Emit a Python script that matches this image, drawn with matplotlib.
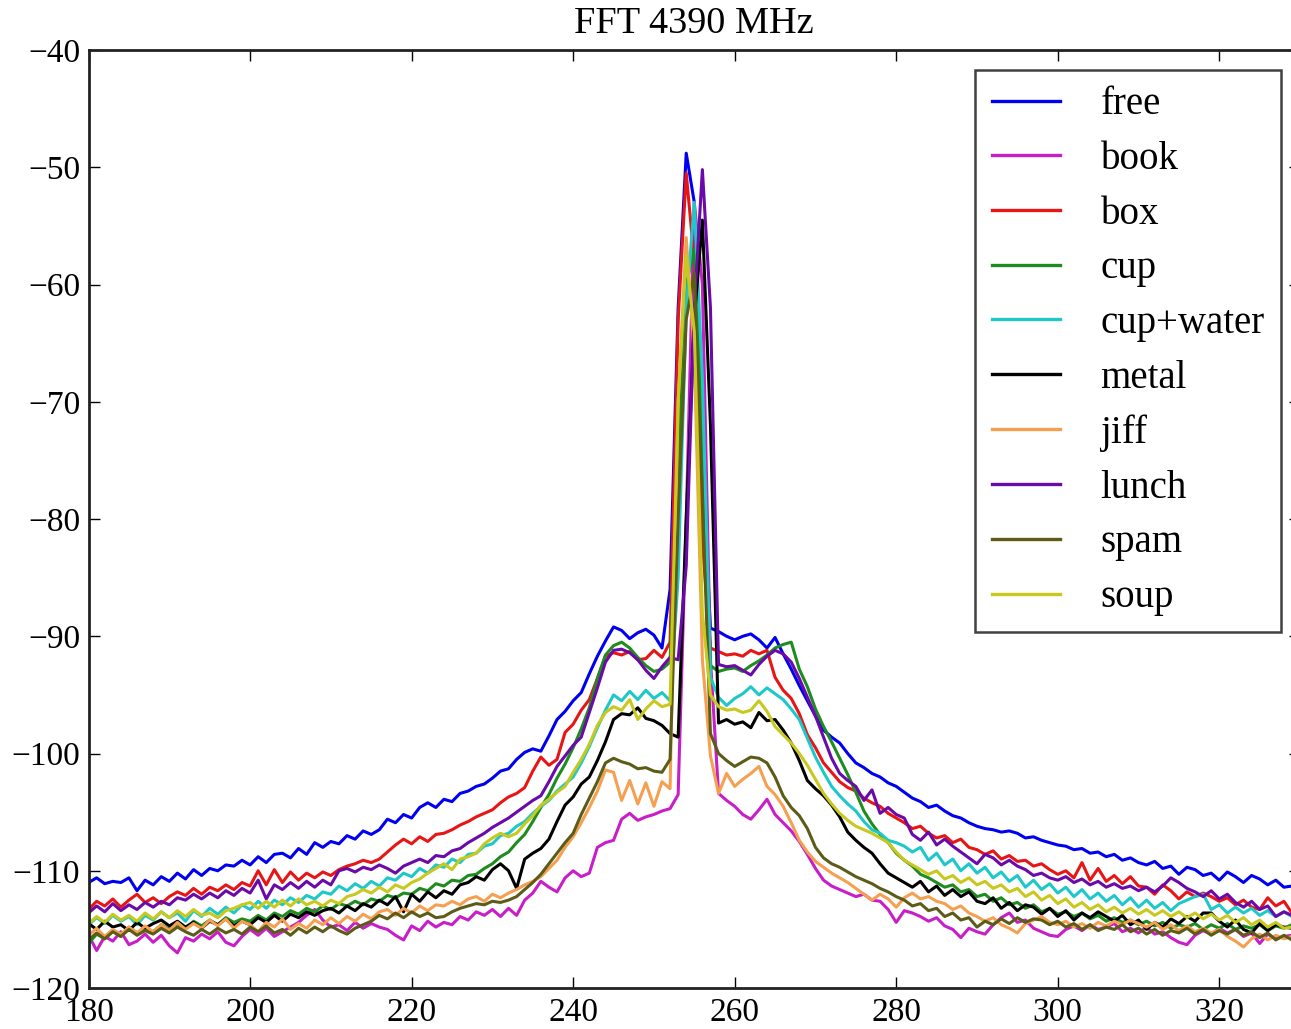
import matplotlib
matplotlib.use("Agg")
import matplotlib.pyplot as plt
import numpy as np

plt.rcParams['font.family'] = ['Liberation Serif', 'DejaVu Serif']
plt.rcParams['axes.unicode_minus'] = True

x_start, x_stop = 180, 330   # FFT bins 180..329

free = [
 -111.0, -110.6, -111.1, -110.9, -111.0, -110.6, -111.7, -110.8, -111.2, -110.5,
 -110.9, -110.2, -110.7, -109.9, -110.4, -109.8, -110.0, -109.5, -109.6, -109.1,
 -109.5, -108.8, -109.3, -108.6, -108.5, -108.9, -108.1, -108.6, -107.6, -108.0,
 -107.5, -107.7, -107.0, -107.3, -106.6, -106.9, -106.5, -105.6, -105.9, -105.2,
 -105.5, -104.6, -104.2, -104.6, -103.9, -104.1, -103.4, -103.2, -102.8, -102.6,
 -102.1, -101.5, -101.3, -100.5, -99.9, -99.6, -99.8, -98.5, -97.1, -96.4,
 -95.5, -94.8, -93.2, -91.7, -90.4, -89.2, -89.5, -90.2, -89.7, -89.4,
 -89.9, -91.0, -86.0, -62.0, -48.8, -53.0, -75.0, -89.3, -89.6, -90.0,
 -90.3, -90.0, -89.8, -90.3, -91.0, -90.1, -91.5, -92.8, -94.2, -95.5,
 -96.8, -98.0, -98.6, -99.1, -100.0, -100.8, -101.2, -101.7, -102.0, -102.5,
 -102.8, -103.3, -103.8, -104.1, -104.6, -104.4, -104.9, -105.3, -105.5, -105.9,
 -106.2, -106.4, -106.5, -106.7, -106.6, -106.8, -107.2, -107.1, -107.4, -107.6,
 -107.8, -107.9, -108.2, -108.1, -108.5, -108.4, -108.8, -108.6, -109.1, -108.9,
 -109.3, -109.5, -109.2, -109.8, -109.6, -110.3, -109.7, -109.9, -110.4, -110.2,
 -110.8, -110.1, -110.5, -111.0, -110.4, -110.7, -111.2, -110.8, -111.4, -111.3]

book = [
 -115.5, -116.8, -115.6, -116.0, -115.2, -116.3, -116.0, -115.4, -116.1, -115.5,
 -116.4, -117.0, -115.7, -116.0, -115.4, -115.8, -115.2, -116.1, -116.4, -115.6,
 -115.0, -115.5, -114.9, -115.6, -115.2, -114.8, -114.4, -113.8, -113.3, -114.2,
 -114.8, -114.6, -115.1, -114.4, -114.9, -114.5, -114.8, -115.0, -115.5, -115.9,
 -114.7, -115.1, -114.3, -114.8, -114.4, -114.6, -113.9, -114.2, -113.5, -113.8,
 -113.3, -113.9, -113.2, -113.8, -112.5, -111.9, -110.9, -111.4, -111.8, -110.6,
 -110.0, -110.5, -110.2, -108.0, -107.6, -107.4, -105.6, -105.1, -105.7, -105.4,
 -105.2, -104.9, -104.7, -103.5, -80.0, -53.0, -60.0, -92.0, -103.4, -104.0,
 -104.5, -105.2, -105.6, -104.8, -103.9, -105.2, -105.9, -106.6, -107.5, -108.6,
 -109.8, -110.8, -111.3, -111.6, -111.9, -112.2, -112.0, -112.5, -112.6, -113.3,
 -114.4, -113.4, -113.6, -113.9, -114.3, -114.0, -114.7, -115.0, -115.7, -114.9,
 -115.2, -115.4, -114.6, -114.0, -113.6, -114.4, -114.2, -114.9, -115.2, -115.5,
 -115.6, -115.0, -114.7, -115.1, -114.6, -115.0, -114.8, -114.5, -115.2, -114.9,
 -115.3, -114.8, -115.4, -115.2, -115.7, -116.1, -116.3, -115.5, -115.1, -115.4,
 -114.9, -115.3, -115.0, -115.6, -115.3, -116.2, -115.4, -115.8, -115.6, -115.5]

box = [
 -113.3, -112.6, -113.0, -112.4, -113.1, -112.5, -112.0, -112.7, -112.3, -112.8,
 -112.2, -111.8, -112.1, -111.5, -112.0, -111.4, -111.7, -111.2, -111.6, -111.0,
 -111.3, -110.0, -111.2, -109.9, -111.0, -110.1, -110.8, -110.2, -110.6, -110.1,
 -110.4, -109.9, -109.6, -109.4, -109.1, -109.3, -109.0, -108.4, -107.8, -107.3,
 -107.7, -107.1, -107.5, -106.9, -106.8, -106.5, -106.1, -105.8, -105.4, -105.1,
 -104.8, -104.2, -103.7, -103.4, -102.9, -101.5, -100.3, -101.0, -100.5, -98.2,
 -97.5, -96.3, -95.4, -93.6, -91.7, -91.4, -91.6, -91.3, -92.0, -91.9,
 -91.2, -91.8, -90.5, -63.0, -50.5, -58.0, -82.0, -91.0, -91.3, -91.6,
 -91.5, -91.7, -91.2, -91.5, -91.2, -93.5, -94.6, -95.3, -96.6, -98.4,
 -99.5, -100.8, -101.6, -102.4, -102.9, -103.2, -103.8, -104.2, -104.5, -105.1,
 -105.5, -105.9, -106.4, -106.2, -106.8, -107.2, -107.0, -107.6, -107.3, -108.0,
 -108.2, -108.6, -108.3, -109.0, -108.7, -109.2, -109.1, -109.6, -109.4, -109.9,
 -110.3, -110.0, -110.6, -109.3, -110.8, -109.8, -110.9, -110.4, -111.1, -110.5,
 -111.3, -111.4, -112.0, -111.2, -111.7, -112.4, -111.8, -112.2, -111.9, -112.2,
 -112.6, -112.3, -112.9, -112.5, -113.1, -113.3, -112.3, -113.0, -112.6, -113.6]

cup = [
 -116.2, -115.4, -115.8, -115.1, -115.6, -114.8, -115.3, -114.9, -115.2, -114.6,
 -115.0, -114.5, -114.9, -114.3, -114.7, -114.2, -114.6, -114.0, -114.4, -114.1,
 -114.3, -113.8, -114.2, -113.6, -113.9, -113.4, -113.7, -113.2, -113.5, -113.0,
 -113.3, -112.8, -113.0, -112.6, -112.9, -112.4, -112.6, -112.1, -112.3, -111.9,
 -112.0, -111.5, -111.7, -111.1, -111.3, -110.8, -110.9, -110.4, -110.3, -109.8,
 -109.4, -108.8, -108.4, -107.6, -106.9, -105.8, -104.6, -103.5, -102.1, -100.9,
 -99.5, -97.9, -96.1, -93.6, -91.6, -90.8, -90.5, -91.0, -91.8, -92.5,
 -93.0, -92.8, -92.2, -75.0, -60.0, -57.0, -72.0, -92.5, -93.0, -92.8,
 -92.7, -93.0, -92.5, -92.1, -91.6, -91.0, -90.7, -90.5, -92.8, -94.3,
 -96.2, -97.7, -99.0, -100.4, -101.8, -103.3, -104.9, -106.0, -106.9, -107.6,
 -108.5, -109.1, -109.6, -110.3, -110.6, -111.0, -111.4, -111.2, -111.8, -111.6,
 -112.2, -112.0, -112.6, -112.3, -112.9, -112.7, -113.2, -112.9, -113.5, -113.2,
 -113.7, -113.5, -113.9, -113.6, -114.1, -113.8, -114.3, -114.0, -114.4, -114.2,
 -114.6, -114.3, -114.7, -114.4, -114.9, -114.6, -114.8, -114.5, -115.0, -114.6,
 -114.9, -114.5, -115.0, -114.7, -114.9, -114.6, -115.1, -114.7, -114.9, -114.6]

cup_water = [
 -114.6, -114.0, -114.5, -113.8, -114.3, -113.9, -114.6, -113.8, -114.2, -113.5,
 -114.0, -113.6, -114.3, -113.4, -113.9, -113.2, -113.7, -113.1, -113.6, -112.9,
 -113.3, -112.6, -113.2, -112.5, -112.9, -112.3, -112.7, -112.1, -112.4, -111.8,
 -112.0, -111.3, -111.7, -111.1, -111.5, -110.9, -111.3, -110.6, -110.8, -110.2,
 -110.5, -109.8, -110.2, -109.5, -109.7, -109.0, -109.3, -108.6, -108.5, -107.9,
 -107.7, -107.0, -106.8, -106.2, -105.8, -105.1, -104.5, -104.0, -103.2, -102.6,
 -102.0, -100.8, -99.4, -97.8, -96.3, -95.0, -95.5, -94.7, -95.4, -94.6,
 -95.3, -94.8, -95.5, -85.0, -62.0, -53.0, -68.0, -93.5, -95.2, -95.9,
 -95.3, -94.9, -94.3, -95.0, -94.4, -94.9, -95.4, -96.2, -97.1, -98.7,
 -100.3, -101.6, -102.8, -103.6, -104.3, -104.9, -105.8, -106.5, -106.8, -107.4,
 -107.6, -107.9, -108.4, -108.0, -109.1, -108.5, -109.5, -109.0, -110.0, -109.4,
 -110.2, -109.7, -110.6, -110.1, -110.9, -110.4, -111.4, -110.8, -111.6, -111.1,
 -111.9, -111.4, -112.2, -111.6, -112.4, -111.9, -112.6, -112.1, -112.9, -112.3,
 -113.1, -112.5, -113.2, -112.7, -113.4, -112.8, -112.5, -112.2, -112.0, -113.3,
 -112.9, -113.6, -113.1, -113.6, -113.2, -113.8, -113.4, -113.9, -113.5, -113.9]

metal = [
 -114.5, -115.0, -114.3, -114.8, -114.6, -115.1, -114.4, -114.9, -114.5, -114.2,
 -114.7, -114.3, -114.8, -114.4, -114.9, -114.3, -114.6, -114.1, -114.7, -114.3,
 -114.6, -114.0, -114.4, -113.8, -114.3, -113.7, -114.0, -113.5, -113.8, -113.4,
 -113.2, -113.6, -113.0, -113.4, -112.8, -113.1, -112.5, -112.9, -112.2, -113.5,
 -112.0, -112.6, -111.8, -112.3, -111.7, -112.0, -111.2, -111.0, -110.5, -110.8,
 -109.9, -109.4, -110.0, -111.5, -109.0, -108.5, -108.1, -107.3, -105.8, -104.4,
 -103.7, -102.6, -102.0, -100.6, -99.0, -97.1, -96.6, -96.7, -96.1, -97.0,
 -97.2, -97.6, -98.3, -98.6, -80.0, -63.0, -54.5, -72.0, -97.4, -97.1,
 -97.5, -97.3, -97.8, -96.5, -97.2, -97.1, -98.0, -99.1, -100.6, -102.3,
 -103.0, -103.6, -104.4, -105.4, -106.7, -107.4, -108.0, -108.5, -109.4, -110.2,
 -110.6, -111.0, -111.4, -110.9, -111.8, -111.3, -112.1, -111.6, -112.2, -111.8,
 -112.6, -112.8, -112.3, -113.2, -112.7, -113.4, -112.9, -113.1, -113.7, -113.2,
 -113.9, -113.4, -114.2, -113.6, -114.0, -113.5, -113.9, -114.3, -113.8, -114.6,
 -114.2, -115.0, -114.4, -114.8, -114.1, -114.5, -113.9, -114.3, -113.6, -113.6,
 -114.3, -114.8, -114.2, -115.0, -115.3, -114.5, -115.1, -114.6, -114.8, -114.9]

jiff = [
 -115.5, -114.9, -115.6, -115.0, -115.4, -114.8, -115.3, -114.7, -115.2, -114.6,
 -115.1, -114.4, -115.0, -114.5, -114.9, -114.2, -114.7, -114.1, -114.9, -114.3,
 -114.6, -115.2, -114.4, -114.8, -114.1, -115.0, -114.5, -114.9, -114.2, -114.6,
 -114.0, -114.5, -113.9, -114.3, -113.7, -114.1, -113.5, -113.3, -113.8, -113.2,
 -113.6, -113.0, -113.4, -112.9, -113.0, -112.6, -112.9, -112.4, -112.2, -112.6,
 -112.0, -112.3, -111.9, -111.6, -111.2, -110.9, -110.5, -109.8, -109.1, -108.0,
 -107.1, -105.9, -104.6, -103.2, -101.4, -101.6, -104.0, -102.3, -104.3, -102.5,
 -104.5, -102.4, -103.0, -70.0, -56.0, -66.0, -92.0, -100.2, -103.4, -101.7,
 -102.8, -102.2, -101.7, -101.1, -102.8, -103.5, -104.5, -105.9, -107.4, -108.4,
 -109.2, -109.7, -110.2, -110.6, -111.0, -111.5, -112.0, -112.5, -112.0, -112.4,
 -113.1, -112.3, -111.9, -112.4, -112.2, -112.6, -112.8, -113.3, -113.0, -113.6,
 -113.9, -114.3, -114.0, -114.6, -114.9, -115.3, -114.5, -114.2, -113.9, -114.4,
 -114.6, -114.3, -114.8, -114.5, -114.9, -114.4, -114.7, -114.3, -114.6, -114.2,
 -114.5, -114.8, -114.4, -115.0, -114.6, -115.1, -114.7, -115.2, -114.9, -115.3,
 -115.0, -115.6, -116.0, -116.5, -115.8, -115.4, -115.9, -115.5, -115.8, -115.6]

lunch = [
 -113.6, -113.0, -113.5, -112.8, -113.4, -112.9, -113.3, -112.7, -113.1, -112.6,
 -112.9, -112.3, -112.5, -112.0, -112.4, -111.9, -112.3, -111.7, -112.1, -111.5,
 -111.9, -110.8, -112.4, -111.2, -111.6, -111.0, -111.5, -110.9, -111.4, -110.8,
 -111.2, -110.0, -109.8, -110.1, -109.7, -109.9, -109.5, -109.8, -110.2, -109.6,
 -109.3, -109.0, -109.3, -108.7, -108.8, -108.3, -108.1, -107.6, -107.2, -106.8,
 -106.3, -105.9, -105.5, -105.0, -104.5, -104.0, -103.6, -102.4, -101.1, -100.2,
 -99.3, -98.6, -96.5, -94.4, -92.2, -91.2, -91.1, -91.4, -92.0, -92.9,
 -93.6, -92.6, -91.8, -92.0, -84.0, -62.0, -50.2, -62.0, -92.4, -92.6,
 -92.5, -92.9, -93.3, -92.4, -91.7, -91.2, -91.5, -92.2, -93.6, -95.2,
 -96.8, -98.6, -100.4, -101.7, -102.3, -102.8, -104.0, -103.1, -105.1, -104.6,
 -105.2, -105.5, -106.9, -107.4, -106.7, -107.8, -107.3, -107.9, -108.4, -108.9,
 -109.4, -108.6, -108.9, -109.5, -109.1, -109.6, -109.9, -110.4, -110.2, -110.6,
 -110.8, -110.5, -111.0, -110.7, -111.2, -110.9, -111.4, -111.1, -111.5, -111.3,
 -111.7, -111.4, -111.8, -111.3, -110.6, -111.0, -111.5, -111.8, -112.2, -111.7,
 -112.4, -112.0, -112.7, -113.1, -112.6, -113.3, -113.0, -113.9, -113.5, -113.8]

spam = [
 -115.9, -115.3, -115.8, -115.2, -115.6, -115.0, -115.5, -115.1, -115.4, -114.9,
 -115.3, -114.8, -115.2, -115.5, -115.0, -115.4, -114.9, -115.3, -115.0, -115.4,
 -114.8, -115.2, -114.7, -115.3, -115.0, -115.5, -114.9, -115.3, -114.8, -115.2,
 -114.7, -115.1, -115.4, -114.9, -114.6, -114.3, -113.8, -114.1, -113.6, -114.0,
 -113.5, -113.9, -113.6, -114.0, -113.9, -113.5, -113.2, -113.0, -112.8, -112.9,
 -112.6, -112.7, -112.5, -112.2, -111.6, -111.0, -110.3, -109.4, -108.5, -107.6,
 -106.8, -105.2, -103.8, -102.4, -100.8, -100.4, -100.7, -100.9, -101.3, -101.2,
 -101.5, -101.6, -100.5, -80.0, -63.0, -59.0, -78.0, -98.3, -100.0, -100.6,
 -101.1, -100.7, -100.3, -100.4, -100.8, -102.0, -103.6, -104.6, -105.3, -106.4,
 -108.0, -108.9, -109.4, -109.7, -110.1, -110.5, -110.8, -111.1, -111.5, -111.8,
 -112.2, -112.5, -113.0, -112.8, -113.4, -113.2, -113.9, -113.6, -114.2, -114.0,
 -114.8, -114.3, -114.6, -114.1, -114.5, -114.0, -114.4, -114.1, -114.2, -114.6,
 -114.3, -114.8, -114.5, -115.0, -114.6, -115.1, -114.8, -115.0, -114.6, -115.2,
 -114.9, -115.4, -115.0, -115.5, -115.1, -115.3, -114.9, -115.4, -115.0, -115.5,
 -115.1, -115.4, -115.0, -115.5, -115.2, -115.7, -115.3, -115.9, -115.5, -115.9]

soup = [
 -114.5, -113.9, -114.4, -113.7, -114.2, -113.8, -114.3, -113.6, -114.1, -113.5,
 -114.0, -113.4, -113.9, -113.3, -113.8, -113.6, -114.0, -113.4, -113.2, -112.9,
 -112.7, -113.2, -112.6, -113.1, -112.5, -113.0, -112.4, -112.9, -112.6, -113.0,
 -112.5, -112.8, -112.2, -112.0, -111.6, -111.9, -111.4, -111.8, -111.2, -111.5,
 -111.0, -110.7, -110.2, -109.8, -109.4, -109.9, -109.0, -108.8, -108.5, -107.7,
 -107.2, -106.8, -107.1, -106.8, -106.0, -105.3, -104.4, -103.9, -103.3, -102.8,
 -101.6, -100.5, -99.2, -97.6, -96.5, -96.0, -96.3, -95.4, -97.1, -96.2,
 -95.5, -96.0, -95.8, -70.0, -57.5, -64.0, -88.0, -95.0, -96.0, -96.3,
 -96.2, -96.5, -96.3, -95.5, -96.4, -97.7, -98.4, -99.1, -100.0, -101.0,
 -102.2, -103.4, -104.3, -105.1, -105.7, -106.2, -106.5, -106.8, -107.2, -107.6,
 -108.4, -109.1, -109.5, -109.9, -110.3, -110.0, -110.7, -110.4, -111.0, -110.6,
 -111.2, -110.9, -111.5, -111.2, -111.8, -111.5, -112.2, -111.8, -112.5, -112.1,
 -112.8, -112.4, -113.1, -112.7, -113.3, -112.9, -113.5, -113.1, -113.6, -113.2,
 -113.7, -113.3, -113.8, -113.4, -113.9, -113.5, -114.0, -113.6, -114.1, -113.7,
 -114.2, -113.8, -114.4, -114.0, -114.6, -114.2, -114.8, -114.4, -114.9, -114.8]

labels = ["free", "book", "box", "cup", "cup+water", "metal", "jiff",
          "lunch", "spam", "soup"]
series = [free, book, box, cup, cup_water, metal, jiff, lunch, spam, soup]
colors = ["#0000f0", "#c81ec8", "#e81515", "#1e8c1e", "#1ec8c8", "#000000",
          "#f5a050", "#6a0aa8", "#5c5c18", "#c8c81e"]

title = "FFT 4390 MHz"
xticks = [180, 200, 220, 240, 260, 280, 300, 320]
yticks = [-120, -110, -100, -90, -80, -70, -60, -50, -40]

fig = plt.figure(figsize=(12.91, 10.29), dpi=100)
fig.patch.set_facecolor("white")
ax = fig.add_axes([0.0686, 0.0398, 0.9384, 0.9116])

xs = np.arange(x_start, x_stop)
for ys, lab, col in zip(series, labels, colors):
    assert len(ys) == len(xs), lab
    ax.plot(xs, ys, color=col, lw=2.2, label=lab)

ax.set_xlim(180, 330)
ax.set_ylim(-120, -40)
ax.set_xticks(xticks)
ax.set_yticks(yticks)
ax.tick_params(direction="in", length=8, width=1.0, top=True, right=True,
               labelsize=24)
ax.tick_params(axis="x", pad=7)
ax.tick_params(axis="y", pad=6)
for sp in ax.spines.values():
    sp.set_linewidth(2.0)
    sp.set_color("#222222")

ax.set_title(title, fontsize=27.5, pad=12)

leg = ax.legend(loc="upper right", bbox_to_anchor=(0.9843, 0.9787),
                borderaxespad=0, fontsize=28, frameon=True, fancybox=False,
                edgecolor="#111111", handlelength=1.75, handletextpad=1.05,
                labelspacing=0.455, borderpad=0.42)
leg.get_frame().set_linewidth(1.8)
for ln in leg.get_lines():
    ln.set_linewidth(2.4)

fig.savefig("out.png", dpi=100, facecolor="white")
